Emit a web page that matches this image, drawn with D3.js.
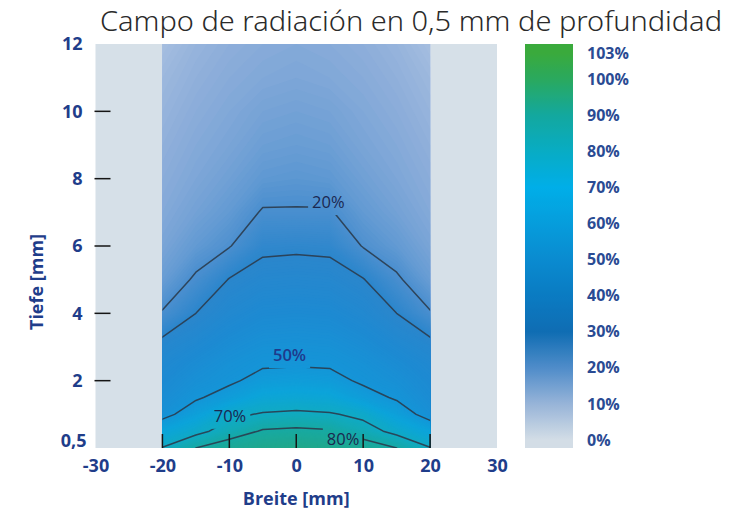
<!DOCTYPE html>
<html>
<head>
<meta charset="utf-8">
<script src="https://cdn.jsdelivr.net/npm/d3@7"></script>
<style>
  body { margin: 0; background: #fff; }
</style>
</head>
<body>
<div class="chart"></div>
<script>
var svgWidth = 740;
var svgHeight = 512;

// measured columns (Breite, mm) and rows (Tiefe, mm)
var widths = [-20, -15, -10, -5, 0, 5, 10, 15, 20];
var depths = [0, 0.5, 1, 1.5, 2, 2.5, 3, 4, 5, 6, 7, 8, 9, 10, 11, 12];

// relative dose in %, one row per depth, one value per width column
var dose = [
  [70.5, 80, 86, 89.5, 91, 89.5, 86, 80, 70.5],
  [60, 67, 74.5, 81, 82, 81, 74.5, 67, 59],
  [46, 57, 67.5, 71, 72, 71, 67.5, 57, 45],
  [42.5, 48.5, 55, 62, 63, 62, 55, 48.5, 42],
  [40, 45, 48, 54, 55, 54, 48, 45, 40],
  [37.5, 42, 46, 48.5, 49, 48.5, 46, 42, 37.5],
  [34, 38.5, 43, 46, 46.5, 46, 43, 38.5, 34],
  [20.5, 30, 36.5, 40, 40.5, 40, 36.5, 30, 20.5],
  [15.5, 21, 30.5, 34, 34.5, 34, 30.5, 21, 15.5],
  [13, 16.5, 19.5, 28, 28.5, 28, 19.5, 16.5, 13],
  [11.5, 14, 16.5, 20.5, 20.5, 20.5, 16.5, 14, 11.5],
  [10.5, 12.5, 14.5, 17, 17.5, 17, 14.5, 12.5, 10.5],
  [9.5, 11.5, 13, 15, 15.5, 15, 13, 11.5, 9.5],
  [8.5, 10.5, 12, 13.5, 14, 13.5, 12, 10.5, 8.5],
  [7.5, 9.5, 11, 12, 12.5, 12, 11, 9.5, 7.5],
  [6, 8.5, 10, 11, 11.5, 11, 10, 8.5, 6]
];

// isodose lines and their labels
var isoLevels = [20, 30, 50, 70, 80];
var isoLabelLevels = [20, 50, 70, 80];
var isoLabelWidths = [4.8, -1.0, -9.9, 7.0];
var isoLabelDepths = [7.3, 2.75, 0.95, 0.27];

// axes
var xTickValues = [-30, -20, -10, 0, 10, 20, 30];
var yTickValues = [0, 2, 4, 6, 8, 10, 12];
var xMarks = [-20, -10, 0, 10, 20];
var yMarks = [2, 4, 6, 8, 10];

// colour bar
var barSteps = [0, 10, 20, 30, 40, 50, 60, 70, 80, 90, 100, 103];
var barColors = ["#d3dde6", "#97b4d8", "#4f8cc9", "#0f6db3", "#0a7bc2", "#0a8bd0",
                 "#069ddc", "#00aee8", "#08acc4", "#13a89e", "#2aa95e", "#3aaa3c"];
var barLabels = [0, 10, 20, 30, 40, 50, 60, 70, 80, 90, 100, 103];

// the dose field itself is printed a little lighter than the bar
var heatSteps = [0, 10, 20, 30, 40, 50, 60, 70, 80, 90, 103];
var heatColors = ["#c8d6e8", "#8eaeda", "#4a8fcf", "#2b86cc", "#1d8ad2", "#1496d8",
                  "#0ca4da", "#10aac4", "#17a9a4", "#20a88c", "#3aaa3c"];

var axisBlue = "#1f3d8a";
var font = "'Open Sans', 'Noto Sans', sans-serif";

var svg = d3.select(".chart")
  .append("svg")
  .attr("width", svgWidth)
  .attr("height", svgHeight);

var x = d3.scaleLinear().domain([-30, 30]).range([95.5, 497]);
var y = d3.scaleLinear().domain([0, 12]).range([448, 44]);
var color = d3.scaleLinear().domain(barSteps).range(barColors).clamp(true);
var heat = d3.scaleLinear().domain(heatSteps).range(heatColors).clamp(true);

// title
svg.append("text")
  .attr("x", 411)
  .attr("y", 31)
  .attr("text-anchor", "middle")
  .attr("font-family", "'Noto Sans', 'Open Sans', sans-serif")
  .attr("font-weight", 300)
  .attr("font-size", 27)
  .attr("textLength", 622)
  .attr("lengthAdjust", "spacingAndGlyphs")
  .attr("fill", "#2a2a2a")
  .text("Campo de radiación en 0,5 mm de profundidad");

// plot background
svg.append("rect")
  .attr("x", x(-30))
  .attr("y", y(12))
  .attr("width", x(30) - x(-30))
  .attr("height", y(0) - y(12))
  .attr("fill", "#d6e0e8");

var defs = svg.append("defs");
defs.append("clipPath").attr("id", "field")
  .append("rect")
  .attr("x", x(widths[0]))
  .attr("y", y(12))
  .attr("width", x(widths[widths.length - 1]) - x(widths[0]))
  .attr("height", y(0) - y(12));

// grid index -> pixel
var gx = d3.scaleLinear()
  .domain([0.5, widths.length - 0.5])
  .range([x(widths[0]), x(widths[widths.length - 1])]);
var gy = d3.scaleLinear()
  .domain(depths.map(function (d, i) { return i + 0.5; }))
  .range(depths.map(function (d) { return y(d); }));

var proj = d3.geoTransform({
  point: function (px, py) { this.stream.point(gx(px), gy(py)); }
});
var path = d3.geoPath(proj);

var flat = [];
dose.forEach(function (row) { row.forEach(function (v) { flat.push(v); }); });

var contours = d3.contours().size([widths.length, depths.length]);

var field = svg.append("g").attr("clip-path", "url(#field)");

// filled dose bands
var bands = contours.thresholds(d3.range(4, 100, 0.5))(flat);
field.selectAll("path.band")
  .data(bands)
  .enter()
  .append("path")
  .attr("class", "band")
  .attr("d", path)
  .attr("fill", function (d) { return heat(d.value + 0.25); });

// isodose lines
var lines = field.append("g").attr("mask", "url(#gaps)");
lines.selectAll("path")
  .data(isoLevels.map(function (v) { return contours.contour(flat, v); }))
  .enter()
  .append("path")
  .attr("d", path)
  .attr("fill", "none")
  .attr("stroke", "#2b3c4e")
  .attr("stroke-width", 1.5)
  .attr("stroke-linejoin", "round")
  .attr("stroke-opacity", 0.9);

// isodose labels
var labelGroup = svg.append("g");
var isoText = labelGroup.selectAll("text")
  .data(isoLabelLevels)
  .enter()
  .append("text")
  .attr("x", function (d, i) { return x(isoLabelWidths[i]); })
  .attr("y", function (d, i) { return y(isoLabelDepths[i]); })
  .attr("dy", "0.35em")
  .attr("text-anchor", "middle")
  .attr("font-family", font)
  .attr("font-size", 16.5)
  .attr("font-weight", function (d) { return d === 50 ? 600 : 500; })
  .attr("fill", function (d) { return d === 50 ? "#1f3a8c" : "#1b2850"; })
  .text(function (d) { return d + "%"; });

var mask = defs.append("mask").attr("id", "gaps")
  .attr("maskUnits", "userSpaceOnUse")
  .attr("x", 0).attr("y", 0).attr("width", svgWidth).attr("height", svgHeight);
mask.append("rect")
  .attr("width", svgWidth).attr("height", svgHeight).attr("fill", "#fff");
isoText.each(function () {
  var b = this.getBBox();
  mask.append("rect")
    .attr("x", b.x - 4).attr("y", b.y - 2)
    .attr("width", b.width + 8).attr("height", b.height + 4)
    .attr("fill", "#000");
});

// inner tick marks
svg.append("g").selectAll("line")
  .data(xMarks)
  .enter()
  .append("line")
  .attr("x1", function (d) { return x(d); })
  .attr("x2", function (d) { return x(d); })
  .attr("y1", y(0))
  .attr("y2", y(0) - 14)
  .attr("stroke", "#151515")
  .attr("stroke-width", 1.5);

svg.append("g").selectAll("line")
  .data(yMarks)
  .enter()
  .append("line")
  .attr("x1", x(-30) - 1)
  .attr("x2", x(-30) + 15)
  .attr("y1", function (d) { return y(d); })
  .attr("y2", function (d) { return y(d); })
  .attr("stroke", "#151515")
  .attr("stroke-width", 1.5);

// axes labels
var xAxis = svg.append("g")
  .attr("transform", "translate(0," + y(0) + ")")
  .call(d3.axisBottom(x).tickValues(xTickValues).tickSize(0).tickPadding(11)
    .tickFormat(function (d) { return String(d); }));

var yAxis = svg.append("g")
  .attr("transform", "translate(" + x(-30) + ",0)")
  .call(d3.axisLeft(y).tickValues(yTickValues).tickSize(0).tickPadding(13)
    .tickFormat(function (d) { return d === 0 ? "0,5" : String(d); }));

[xAxis, yAxis].forEach(function (g) {
  g.select(".domain").remove();
  g.attr("font-family", font)
    .attr("font-size", 18)
    .attr("font-weight", 700);
  g.selectAll("text").attr("fill", axisBlue);
});
yAxis.selectAll(".tick text")
  .filter(function (d) { return d === 0; })
  .attr("y", -7)
  .attr("x", -9);

svg.append("text")
  .attr("x", x(0))
  .attr("y", 505)
  .attr("text-anchor", "middle")
  .attr("font-family", font)
  .attr("font-size", 18)
  .attr("font-weight", 700)
  .attr("fill", axisBlue)
  .text("Breite [mm]");

svg.append("text")
  .attr("transform", "translate(43,282) rotate(-90)")
  .attr("text-anchor", "middle")
  .attr("font-family", font)
  .attr("font-size", 18)
  .attr("font-weight", 700)
  .attr("fill", axisBlue)
  .text("Tiefe [mm]");

// colour bar
var barTop = 44, barBottom = 448;
var barY = d3.scaleLinear().domain([0, 100, 103]).range([440, 79, 53]);

var grad = defs.append("linearGradient")
  .attr("id", "bar")
  .attr("x1", 0).attr("y1", 1).attr("x2", 0).attr("y2", 0);
grad.selectAll("stop")
  .data(d3.range(0, 104, 1))
  .enter()
  .append("stop")
  .attr("offset", function (v) { return (barBottom - barY(v)) / (barBottom - barTop); })
  .attr("stop-color", function (v) { return color(v); });

svg.append("rect")
  .attr("x", 525)
  .attr("y", barTop)
  .attr("width", 48)
  .attr("height", barBottom - barTop)
  .attr("fill", "url(#bar)");

svg.append("g").selectAll("text")
  .data(barLabels)
  .enter()
  .append("text")
  .attr("x", 587)
  .attr("y", function (d) { return barY(d); })
  .attr("dy", "0.35em")
  .attr("font-family", font)
  .attr("font-size", 16)
  .attr("font-weight", 700)
  .attr("fill", "#2a4b93")
  .text(function (d) { return d + "%"; });
</script>
</body>
</html>
